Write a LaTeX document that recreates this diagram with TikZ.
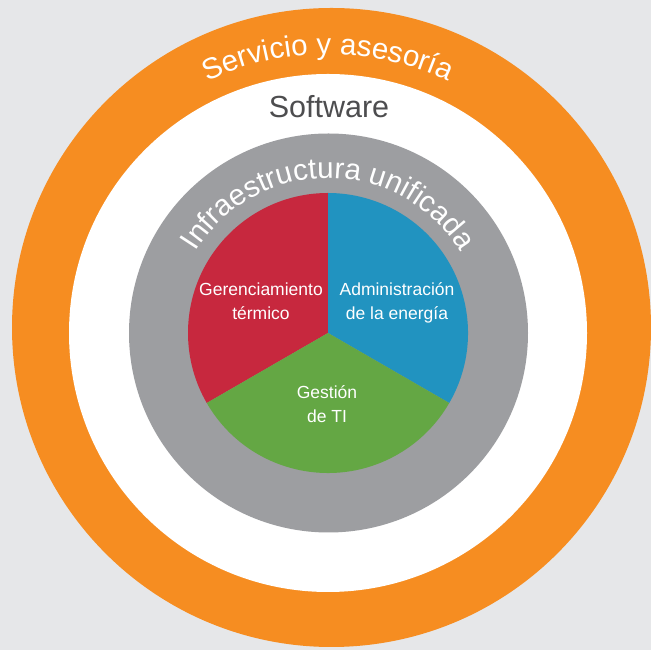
\documentclass[tikz,border=0pt]{standalone}
\usepackage{fontspec}
\setmainfont{Liberation Sans}
\usetikzlibrary{decorations.text}
\definecolor{bgc}{HTML}{E6E7E9}
\definecolor{orng}{HTML}{F68D21}
\definecolor{ringgray}{HTML}{9D9EA1}
\definecolor{redc}{HTML}{C7283E}
\definecolor{bluec}{HTML}{2193C0}
\definecolor{greenc}{HTML}{64A744}
\definecolor{swgray}{HTML}{4D4D4F}
\tikzset{
  pielabel/.style={text=white, align=center, anchor=base, font=\fontsize{17.5}{24.5}\selectfont},
}
\begin{document}
\begin{tikzpicture}[x=1pt,y=1pt]
\useasboundingbox (0,0) rectangle (651,650);
\fill[bgc] (0,0) rectangle (651,650);
\coordinate (C) at (328,317);
\coordinate (OC) at (331.5,322.5);
\coordinate (GC) at (328.5,317);
\fill[orng] (OC) circle[radius=319.5];
\fill[white] (C) circle[radius=259];
\fill[ringgray] (GC) circle[radius=199.5];
\fill[redc] (C) -- ++(90:140) arc[start angle=90,end angle=210,radius=140] -- cycle;
\fill[bluec] (C) -- ++(-30:140) arc[start angle=-30,end angle=90,radius=140] -- cycle;
\fill[greenc] (C) -- ++(210:140) arc[start angle=210,end angle=330,radius=140] -- cycle;
\path[decorate, decoration={text along path, text align=center,
  text={|\fontsize{29.5}{29.5}\selectfont\color{white}|Servicio y asesoría}}]
  (C) ++(160:279) arc[start angle=160,end angle=20,radius=279];
\path[decorate, decoration={text along path, text align=center,
  text={|\fontsize{29.5}{29.5}\selectfont\color{white}|Infraestructura unificada}}]
  (C) ++(175:155) arc[start angle=175,end angle=5,radius=155];
\node[anchor=base, text=swgray, font=\fontsize{30.5}{30.5}\selectfont] (sw) at (329,532) {Software};
\node[pielabel] (thermal) at (261,330) {Gerenciamiento\\térmico};
\node[pielabel] (energy) at (397,330) {Administración\\de la energía};
\node[pielabel] (it) at (327,227) {Gestión\\de TI};
\end{tikzpicture}
\end{document}
